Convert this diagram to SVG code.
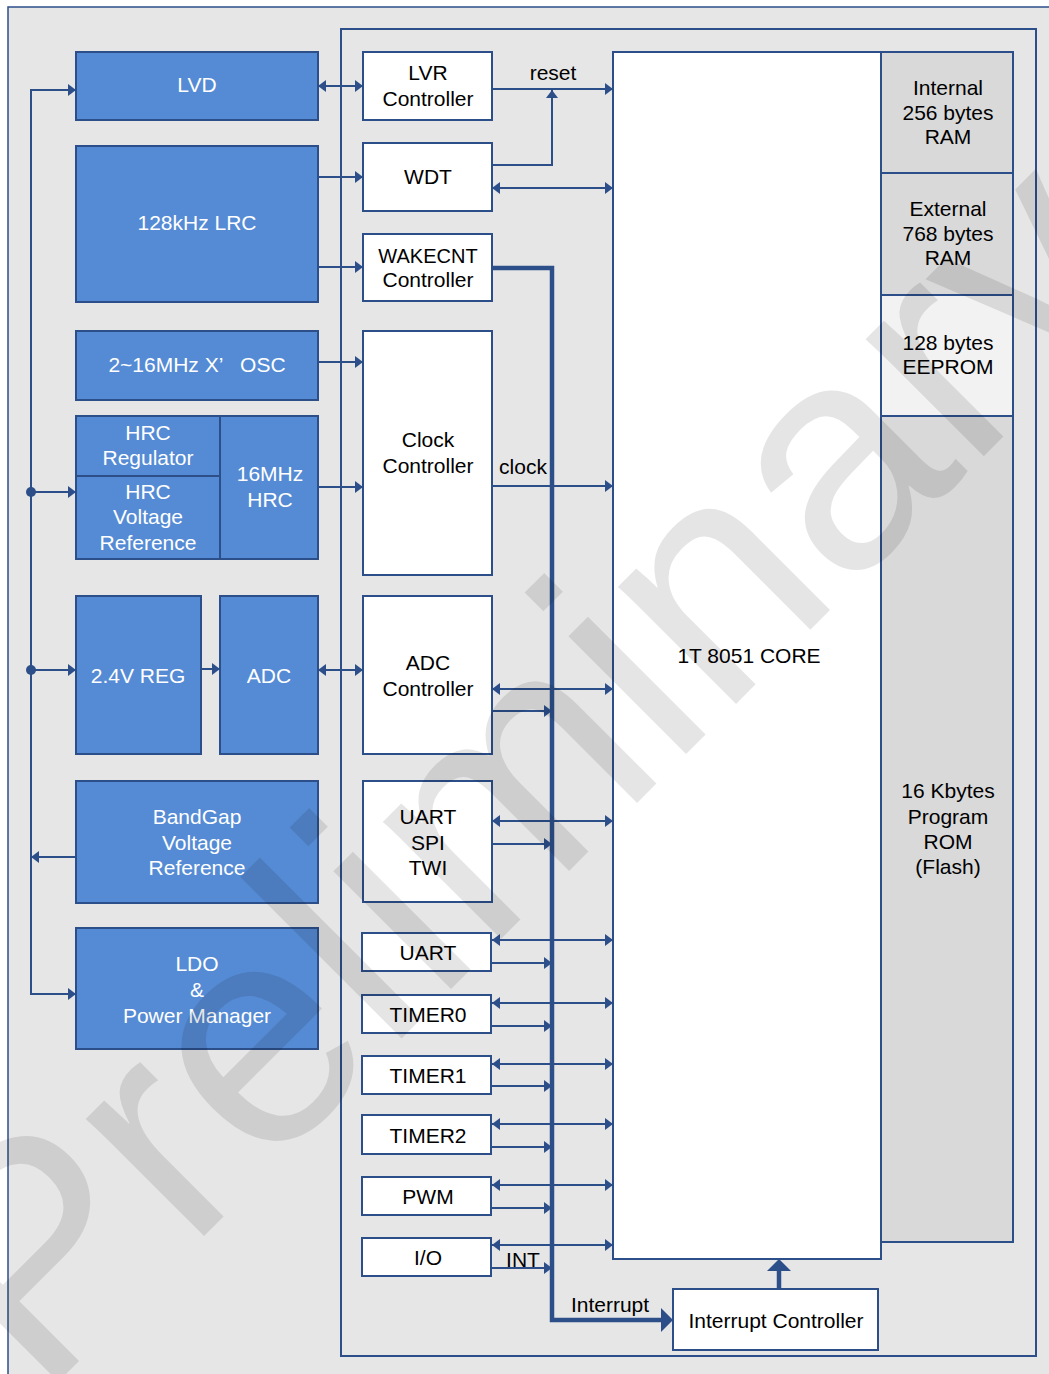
<svg xmlns="http://www.w3.org/2000/svg" width="1049" height="1374" viewBox="0 0 1049 1374">
<style>
text{font-family:"Liberation Sans",Arial,sans-serif;font-size:21px;text-anchor:middle}
.w{fill:#ffffff}
.k{fill:#000000}
.blue{fill:#558bd4;stroke:#2c4f8a;stroke-width:2}
.wht{fill:#ffffff;stroke:#2c4f8a;stroke-width:2}
.mem{fill:#d9d9d9;stroke:#2c4f8a;stroke-width:2}
.ln{fill:none;stroke:#2c4f8a;stroke-width:2}
.bus{fill:none;stroke:#2c4f8a;stroke-width:4.5}
.wm{font-size:315px;fill:#000000;fill-opacity:0.1;text-anchor:start}
</style>
<defs>
<marker id="a" viewBox="0 0 8 12" refX="8" refY="6" markerWidth="8" markerHeight="12" orient="auto-start-reverse" markerUnits="userSpaceOnUse"><path d="M0,0L8,6L0,12z" fill="#2c4f8a"/></marker>
<marker id="b" viewBox="0 0 12 24" refX="0" refY="12" markerWidth="12" markerHeight="24" orient="auto" markerUnits="userSpaceOnUse"><path d="M0,0L12,12L0,24z" fill="#2c4f8a"/></marker>
</defs>
<rect x="0" y="0" width="1049" height="1374" fill="#ffffff"/>
<rect x="8" y="7" width="1060" height="1390" fill="#e6e6e6" stroke="#2c4f8a" stroke-width="1.5"/>
<rect x="341" y="29" width="695" height="1327" fill="none" stroke="#2c4f8a" stroke-width="2"/>

<g id="lvd"><rect class="blue" x="76" y="52" width="242" height="68"/><text class="w" x="197" y="92">LVD</text></g>
<g id="lrc"><rect class="blue" x="76" y="146" width="242" height="156"/><text class="w" x="197" y="230">128kHz LRC</text></g>
<g id="osc"><rect class="blue" x="76" y="331" width="242" height="69"/><text class="w" x="197" y="372" xml:space="preserve">2~16MHz X’   OSC</text></g>
<g id="hrc-reg"><rect class="blue" x="76" y="416" width="144" height="60"/><text class="w" x="148" y="440">HRC</text><text class="w" x="148" y="465">Regulator</text></g>
<g id="hrc-vref"><rect class="blue" x="76" y="476" width="144" height="83"/><text class="w" x="148" y="499">HRC</text><text class="w" x="148" y="524">Voltage</text><text class="w" x="148" y="550">Reference</text></g>
<g id="hrc16"><rect class="blue" x="220" y="416" width="98" height="143"/><text class="w" x="270" y="481">16MHz</text><text class="w" x="270" y="507">HRC</text></g>
<g id="reg24"><rect class="blue" x="76" y="596" width="125" height="158"/><text class="w" x="138" y="683">2.4V REG</text></g>
<g id="adc"><rect class="blue" x="220" y="596" width="98" height="158"/><text class="w" x="269" y="683">ADC</text></g>
<g id="bandgap"><rect class="blue" x="76" y="781" width="242" height="122"/><text class="w" x="197" y="824">BandGap</text><text class="w" x="197" y="850">Voltage</text><text class="w" x="197" y="875">Reference</text></g>
<g id="ldo"><rect class="blue" x="76" y="928" width="242" height="121"/><text class="w" x="197" y="971">LDO</text><text class="w" x="197" y="997">&amp;</text><text class="w" x="197" y="1023">Power Manager</text></g>

<g id="lvr"><rect class="wht" x="363" y="52" width="129" height="68"/><text class="k" x="428" y="80">LVR</text><text class="k" x="428" y="106">Controller</text></g>
<g id="wdt"><rect class="wht" x="363" y="143" width="129" height="68"/><text class="k" x="428" y="184">WDT</text></g>
<g id="wakecnt"><rect class="wht" x="363" y="234" width="129" height="67"/><text class="k" x="428" y="263" style="font-size:20px">WAKECNT</text><text class="k" x="428" y="287">Controller</text></g>
<g id="clock"><rect class="wht" x="363" y="331" width="129" height="244"/><text class="k" x="428" y="447">Clock</text><text class="k" x="428" y="473">Controller</text></g>
<g id="adcctl"><rect class="wht" x="363" y="596" width="129" height="158"/><text class="k" x="428" y="670">ADC</text><text class="k" x="428" y="696">Controller</text></g>
<g id="uartspi"><rect class="wht" x="363" y="781" width="129" height="121"/><text class="k" x="428" y="824">UART</text><text class="k" x="428" y="850">SPI</text><text class="k" x="428" y="875">TWI</text></g>
<g id="uart"><rect class="wht" x="362" y="933" width="129" height="38"/><text class="k" x="428" y="960">UART</text></g>
<g id="timer0"><rect class="wht" x="362" y="995" width="129" height="38"/><text class="k" x="428" y="1022">TIMER0</text></g>
<g id="timer1"><rect class="wht" x="362" y="1056" width="129" height="38"/><text class="k" x="428" y="1083">TIMER1</text></g>
<g id="timer2"><rect class="wht" x="362" y="1115" width="129" height="39"/><text class="k" x="428" y="1143">TIMER2</text></g>
<g id="pwm"><rect class="wht" x="362" y="1177" width="129" height="38"/><text class="k" x="428" y="1204">PWM</text></g>
<g id="io"><rect class="wht" x="362" y="1238" width="129" height="38"/><text class="k" x="428" y="1265">I/O</text></g>

<g id="core"><rect class="wht" x="613" y="52" width="268" height="1207"/><text class="k" x="749" y="663">1T 8051 CORE</text></g>
<g id="iram"><rect class="mem" x="881" y="52" width="132" height="121"/><text class="k" x="948" y="95">Internal</text><text class="k" x="948" y="120">256 bytes</text><text class="k" x="948" y="144">RAM</text></g>
<g id="xram"><rect class="mem" x="881" y="173" width="132" height="122"/><text class="k" x="948" y="216">External</text><text class="k" x="948" y="241">768 bytes</text><text class="k" x="948" y="265">RAM</text></g>
<g id="eeprom"><rect class="mem" x="881" y="295" width="132" height="121" style="fill:#f2f2f2"/><text class="k" x="948" y="350">128 bytes</text><text class="k" x="948" y="374">EEPROM</text></g>
<g id="flash"><rect class="mem" x="881" y="416" width="132" height="826"/><text class="k" x="948" y="798">16 Kbytes</text><text class="k" x="948" y="824">Program</text><text class="k" x="948" y="849">ROM</text><text class="k" x="948" y="874">(Flash)</text></g>
<g id="intctl"><rect class="wht" x="673" y="1289" width="205" height="61"/><text class="k" x="776" y="1328">Interrupt Controller</text></g>

<g id="connectors">
<path class="ln" d="M76,90H31V994H76" marker-start="url(#a)" marker-end="url(#a)"/>
<circle cx="31" cy="492" r="5" fill="#2c4f8a"/>
<circle cx="31" cy="670" r="5" fill="#2c4f8a"/>
<path class="ln" d="M31,492H76" marker-end="url(#a)"/>
<path class="ln" d="M31,670H76" marker-end="url(#a)"/>
<path class="ln" d="M76,857H31" marker-end="url(#a)"/>
<path class="ln" d="M318,86H363" marker-start="url(#a)" marker-end="url(#a)"/>
<path class="ln" d="M318,177H363" marker-end="url(#a)"/>
<path class="ln" d="M318,267H363" marker-end="url(#a)"/>
<path class="ln" d="M318,362H363" marker-end="url(#a)"/>
<path class="ln" d="M318,487H363" marker-end="url(#a)"/>
<path class="ln" d="M201,669H220" marker-end="url(#a)"/>
<path class="ln" d="M318,670H363" marker-start="url(#a)" marker-end="url(#a)"/>
<path class="ln" d="M492,89H613" marker-end="url(#a)"/>
<path class="ln" d="M492,165H552V90" marker-end="url(#a)"/>
<path class="ln" d="M492,188H613" marker-start="url(#a)" marker-end="url(#a)"/>
<path class="ln" d="M492,486H613" marker-end="url(#a)"/>
<path class="ln" d="M492,689H613" marker-start="url(#a)" marker-end="url(#a)"/>
<path class="ln" d="M492,711H552" marker-end="url(#a)"/>
<path class="ln" d="M492,821H613" marker-start="url(#a)" marker-end="url(#a)"/>
<path class="ln" d="M492,844H552" marker-end="url(#a)"/>
<path class="ln" d="M492,940H613" marker-start="url(#a)" marker-end="url(#a)"/>
<path class="ln" d="M492,963H552" marker-end="url(#a)"/>
<path class="ln" d="M492,1003H613" marker-start="url(#a)" marker-end="url(#a)"/>
<path class="ln" d="M492,1026H552" marker-end="url(#a)"/>
<path class="ln" d="M492,1064H613" marker-start="url(#a)" marker-end="url(#a)"/>
<path class="ln" d="M492,1086H552" marker-end="url(#a)"/>
<path class="ln" d="M492,1124H613" marker-start="url(#a)" marker-end="url(#a)"/>
<path class="ln" d="M492,1147H552" marker-end="url(#a)"/>
<path class="ln" d="M492,1185H613" marker-start="url(#a)" marker-end="url(#a)"/>
<path class="ln" d="M492,1208H552" marker-end="url(#a)"/>
<path class="ln" d="M492,1245H613" marker-start="url(#a)" marker-end="url(#a)"/>
<path class="ln" d="M492,1268H552" marker-end="url(#a)"/>
<path class="bus" d="M492,268H552V1320H661" marker-end="url(#b)"/>
<path class="bus" d="M779,1289V1271" marker-end="url(#b)"/>
<text class="k" x="553" y="80">reset</text>
<text class="k" x="523" y="474">clock</text>
<text class="k" x="523" y="1267">INT</text>
<text class="k" x="610" y="1312">Interrupt</text>
</g>

<text class="wm" transform="translate(40,1400) rotate(-45)">Preliminary</text>
</svg>
